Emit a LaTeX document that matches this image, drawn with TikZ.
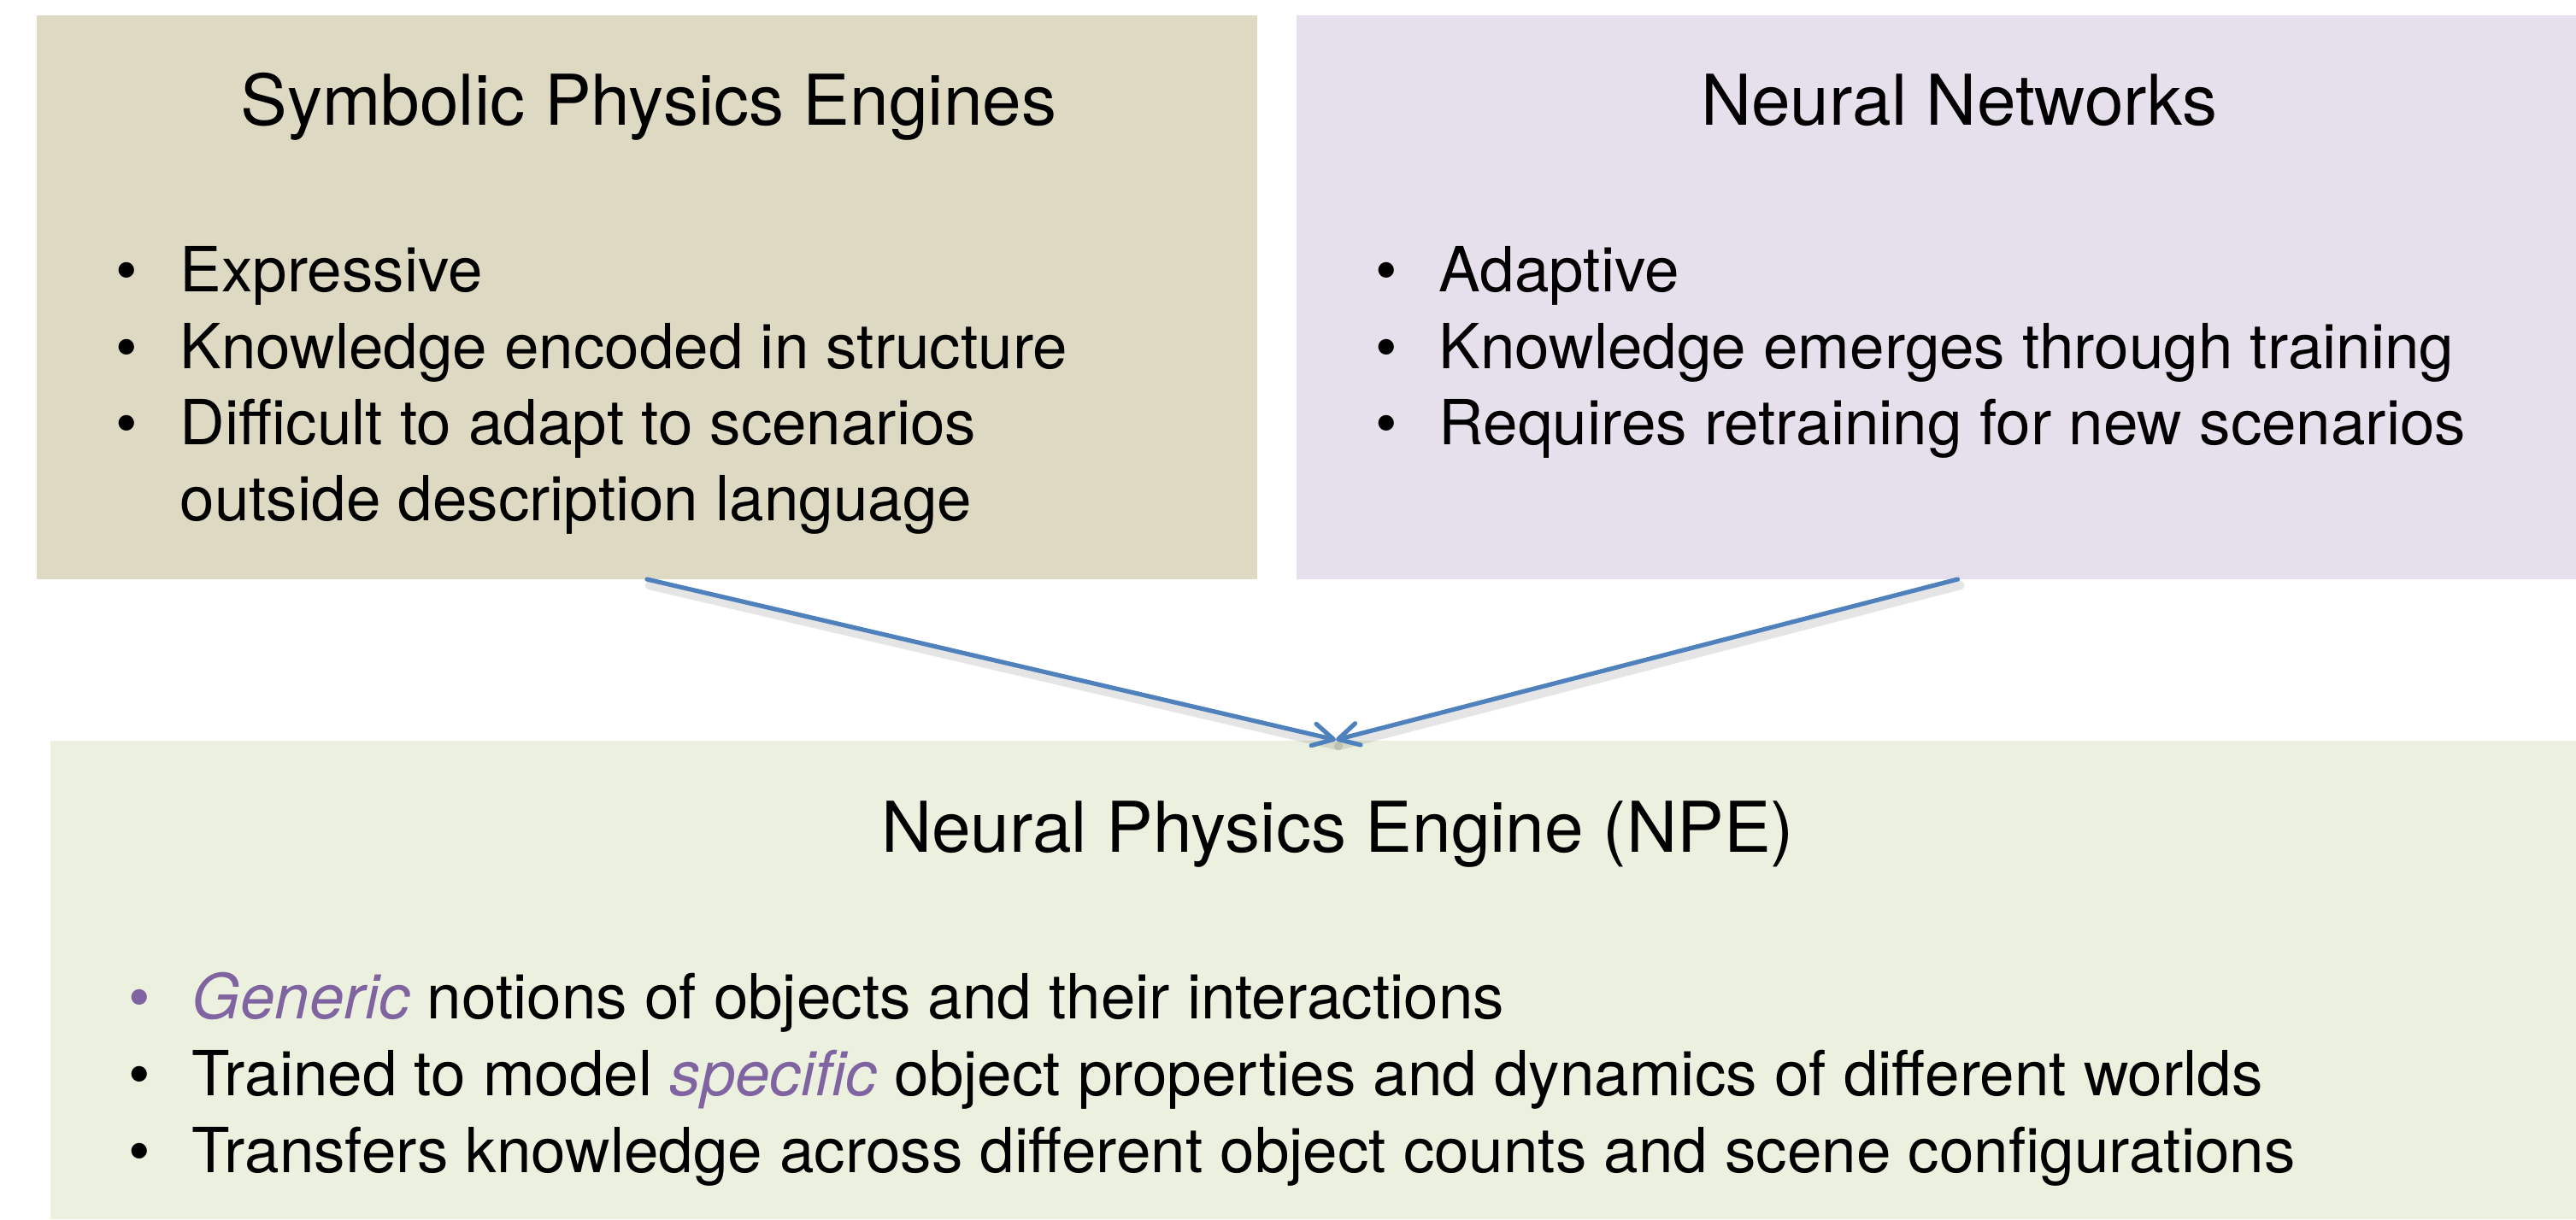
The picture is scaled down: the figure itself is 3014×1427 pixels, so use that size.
\documentclass[tikz,border=0pt]{standalone}
\usepackage{fontspec}
\setmainfont{TeX Gyre Heros}
\usetikzlibrary{arrows.meta,calc}
\definecolor{tanbox}{HTML}{DDD9C3}
\definecolor{lavbox}{HTML}{E5E0EC}
\definecolor{greenbox}{HTML}{EBF1DE}
\definecolor{arrowblue}{HTML}{4F81BD}
\definecolor{accentpurple}{HTML}{8064A2}
\begin{document}
\begin{tikzpicture}[x=0.25pt,y=-0.25pt,
  box/.style={draw=none, inner sep=0pt, outer sep=0pt, anchor=north west},
  heading/.style={anchor=base, inner sep=0pt, font=\fontsize{20.5pt}{24pt}\selectfont},
  item/.style={anchor=base west, inner sep=0pt, font=\fontsize{18.2pt}{22pt}\selectfont},
  bul/.style={anchor=base, inner sep=0pt, font=\fontsize{18.2pt}{22pt}\selectfont},
  link/.style={draw=arrowblue, line width=1.3pt, line cap=round,
    -{Straight Barb[length=6pt,width=6.5pt,round]}},
  linkshadow/.style={draw=black, opacity=0.10, line width=2.6pt, line cap=round}]
\useasboundingbox (0,0) rectangle (3014,1427);

% boxes
\node[box, fill=tanbox, minimum width=357pt, minimum height=165pt] (sym) at (43,18) {};
\node[box, fill=lavbox, minimum width=374.25pt, minimum height=165pt] (nn) at (1517,18) {};
\node[box, fill=greenbox, minimum width=738.75pt, minimum height=140pt] (npe) at (59,867) {};

% headings
\node[heading] (symtitle) at (759,146) {Symbolic Physics Engines};
\node[heading] (nntitle) at (2292,146) {Neural Networks};
\node[heading] (npetitle) at (1565,997) {Neural Physics Engine (NPE)};

% left bullets
\node[bul] (sb1) at (148,341) {\textbullet};
\node[item] (s1) at (210,341) {Expressive};
\node[bul] (sb2) at (148,431) {\textbullet};
\node[item] (s2) at (210,431) {Knowledge encoded in structure};
\node[bul] (sb3) at (148,520) {\textbullet};
\node[item] (s3) at (210,520) {Difficult to adapt to scenarios};
\node[item] (s4) at (210,609) {outside description language};

% right bullets
\node[bul] (nb1) at (1622,341) {\textbullet};
\node[item] (n1) at (1683,341) {Adaptive};
\node[bul] (nb2) at (1622,431) {\textbullet};
\node[item] (n2) at (1683,431) {Knowledge emerges through training};
\node[bul] (nb3) at (1622,520) {\textbullet};
\node[item] (n3) at (1683,520) {Requires retraining for new scenarios};

% bottom bullets
\node[bul, text=accentpurple] (pb1) at (163,1192) {\textbullet};
\node[item] (p1) at (224,1192) {\textcolor{accentpurple}{\itshape Generic} notions of objects and their interactions};
\node[bul] (pb2) at (163,1282) {\textbullet};
\node[item] (p2) at (224,1282) {Trained to model \textcolor{accentpurple}{\itshape specific} object properties and dynamics of different worlds};
\node[bul] (pb3) at (163,1372) {\textbullet};
\node[item] (p3) at (224,1372) {Transfers knowledge across different object counts and scene configurations};

% connectors
\coordinate (tip) at (1563,866);
\coordinate (nnstart) at ([xshift=6.25pt]nn.south);
\draw[linkshadow] ([shift={(3,7)}]sym.south) -- ([shift={(3,7)}]tip);
\draw[linkshadow] ([shift={(3,7)}]nnstart) -- ([shift={(3,7)}]tip);
\draw[link] (sym.south) -- (tip);
\draw[link] (nnstart) -- (tip);
\end{tikzpicture}
\end{document}
